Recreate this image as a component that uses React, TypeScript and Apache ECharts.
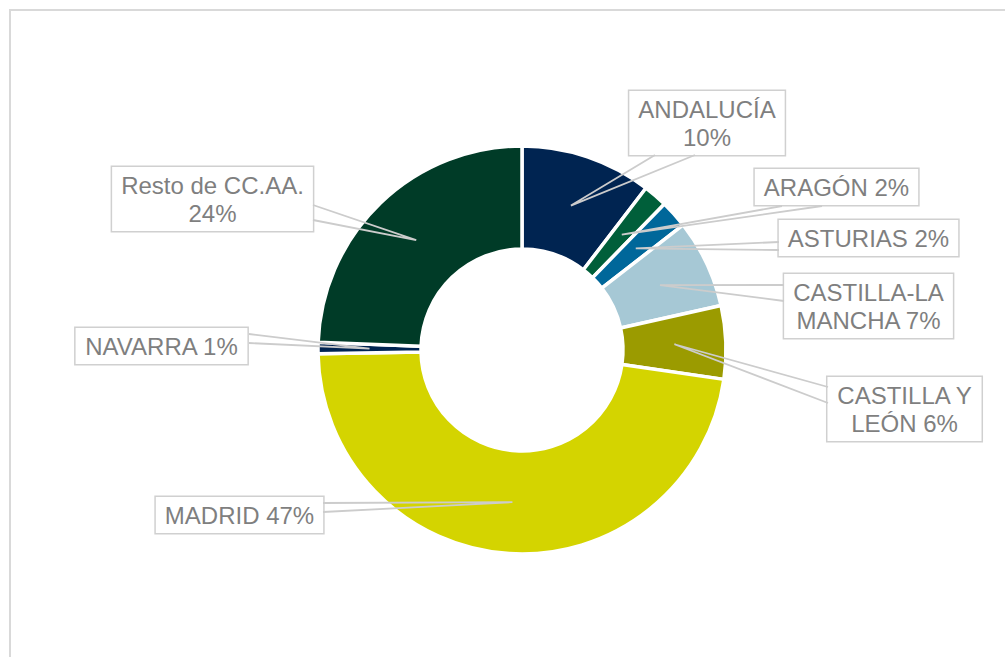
import React, { useEffect, useRef } from "react";
import * as echarts from "echarts";

const categories = [
  "ANDALUCÍA",
  "ARAGÓN",
  "ASTURIAS",
  "CASTILLA-LA MANCHA",
  "CASTILLA Y LEÓN",
  "MADRID",
  "NAVARRA",
  "Resto de CC.AA.",
];
const values = [10.4, 1.9, 2.2, 7.0, 5.8, 47.4, 0.9, 24.4];
const colors = ["#002451", "#005f3a", "#00679a", "#a6c8d5", "#9b9b00", "#d4d400", "#002451", "#003b27"];

// layout: number of words on the first label line (0 = single line)
const breakAfterWords = [1, 0, 0, 1, 2, 0, 0, 3];
// layout: label box [centerX, top] in page pixels
const labelBoxes: number[][] = [
  [707, 91],
  [836.5, 169],
  [868.5, 220],
  [868.5, 274],
  [904.5, 377],
  [239.5, 497],
  [161.5, 328],
  [212.5, 167],
];
// layout: callout base points on the label box edge
const calloutBases: number[][][] = [
  [[655, 155], [695, 155]],
  [[782, 206], [822, 206]],
  [[779, 242], [779, 250]],
  [[784, 285], [784, 301]],
  [[828, 387], [828, 403]],
  [[323, 503], [323, 512]],
  [[249, 334], [249, 343]],
  [[313, 205], [313, 220]],
];

const CX = 522;
const CY = 350;
const R_IN = 101;
const R_OUT = 204;
const R_ANCHOR = 152.5;

function labelText(i: number): string {
  const name = categories[i];
  const pct = Math.round(values[i]) + "%";
  const k = breakAfterWords[i];
  if (k === 0) return name + " " + pct;
  const words = name.split(" ");
  const first = words.slice(0, k).join(" ");
  const rest = words.slice(k);
  return first + "\n" + (rest.length ? rest.join(" ") + " " + pct : pct);
}

export default function App() {
  const ref = useRef<HTMLDivElement>(null);

  useEffect(() => {
    if (!ref.current) return;
    const chart = echarts.init(ref.current, undefined, { renderer: "svg" });

    // callout tips: middle of the ring at each slice's mid-angle (derived from the data)
    const total = values.reduce((a, b) => a + b, 0);
    let acc = 0;
    const anchors = values.map((v) => {
      const mid = ((acc + v / 2) / total) * Math.PI * 2;
      acc += v;
      return [CX + R_ANCHOR * Math.sin(mid), CY - R_ANCHOR * Math.cos(mid)];
    });

    const callouts = anchors.map((tip, i) => ({
      type: "polyline",
      silent: true,
      z: 50,
      shape: { points: [calloutBases[i][0], tip, calloutBases[i][1]] },
      style: { stroke: "#cccccc", lineWidth: 1.8, fill: "none" },
    }));

    chart.setOption({
      animation: false,
      backgroundColor: "#ffffff",
      graphic: [
        {
          type: "rect",
          silent: true,
          z: -10,
          shape: { x: 10, y: 10, width: 1200, height: 1000 },
          style: { fill: "none", stroke: "#d9d9d9", lineWidth: 2 },
        },
        ...callouts,
      ],
      series: [
        {
          type: "pie",
          center: [CX, CY],
          radius: [R_IN, R_OUT],
          startAngle: 90,
          clockwise: true,
          avoidLabelOverlap: false,
          emphasis: { disabled: true },
          itemStyle: { borderColor: "#ffffff", borderWidth: 3.5 },
          label: {
            show: true,
            position: "outside",
            color: "#7f7f7f",
            fontFamily: '"Liberation Sans", Arial, sans-serif',
            fontSize: 24,
            lineHeight: 28,
            backgroundColor: "#ffffff",
            borderColor: "#d0d0d0",
            borderWidth: 1.5,
            padding: [4, 9],
            align: "center",
          },
          labelLine: { show: false },
          labelLayout: (p: any) => {
            const i = p.dataIndex;
            const [bx, by] = labelBoxes[i];
            return { x: bx, y: by, align: "center", verticalAlign: "top" };
          },
          data: categories.map((name, i) => ({
            name,
            value: values[i],
            itemStyle: { color: colors[i] },
            label: { formatter: labelText(i) },
          })),
        },
      ],
    });

    return () => chart.dispose();
  }, []);

  return (
    <div
      ref={ref}
      style={{ position: "fixed", left: 0, top: 0, width: 1005, height: 657 }}
    />
  );
}
